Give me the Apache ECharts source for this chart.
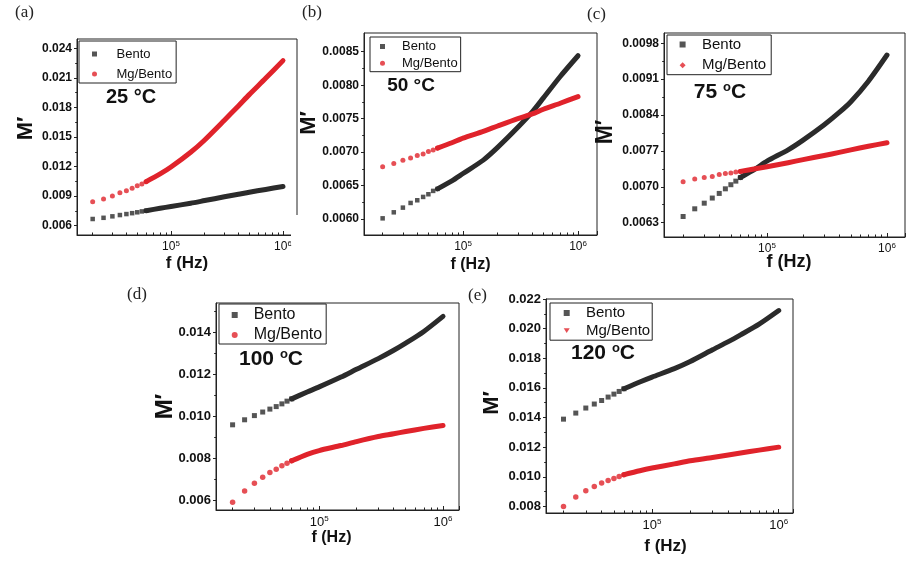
<!DOCTYPE html>
<html><head><meta charset="utf-8">
<script src="https://cdn.jsdelivr.net/npm/echarts@6/dist/echarts.min.js"></script>
<style>html,body{margin:0;padding:0;background:#fff}#c{width:912px;height:563px}</style>
</head><body><div id="c"></div>
<script>
// ---------- data ----------
const freqSparse = [20000, 25000, 30000, 35000, 40000, 45000, 50000, 55000, 60000];
const freqDense = [60000, 80000, 100000, 150000, 200000, 300000, 400000, 500000, 700000, 1000000];
const xMinorTicks = [20000, 30000, 40000, 50000, 60000, 70000, 80000, 90000,
  200000, 300000, 400000, 500000, 600000, 700000, 800000, 900000];
const seriesNames = ['Bento', 'Mg/Bento'];

// (a) 25 °C
const bentoSparseA = [0.00668, 0.00680, 0.00695, 0.00708, 0.00718, 0.00727, 0.00736, 0.00745, 0.00752];
const bentoDenseA = [0.00752, 0.00777, 0.00795, 0.00828, 0.00855, 0.00893, 0.00919, 0.00940, 0.00968, 0.00998];
const mgSparseA = [0.00844, 0.00871, 0.00902, 0.00935, 0.00955, 0.00980, 0.01006, 0.01023, 0.01047];
const mgDenseA = [0.01047, 0.01125, 0.01195, 0.01345, 0.01470, 0.01670, 0.01815, 0.01930, 0.02095, 0.02275];
const yTicksA = [0.006, 0.009, 0.012, 0.015, 0.018, 0.021, 0.024];
const yMinorA = [0.0075, 0.0105, 0.0135, 0.0165, 0.0195, 0.0225];

// (b) 50 °C
const bentoSparseB = [0.00601, 0.00610, 0.00617, 0.00624, 0.00628, 0.00633, 0.00637, 0.00642, 0.00645];
const bentoDenseB = [0.00645, 0.00657, 0.00668, 0.00688, 0.00707, 0.00737, 0.00760, 0.00781, 0.00813, 0.00844];
const mgSparseB = [0.00678, 0.00683, 0.00688, 0.00691, 0.00695, 0.00697, 0.00701, 0.00703, 0.00706];
const mgDenseB = [0.00706, 0.00714, 0.00721, 0.00731, 0.00739, 0.00750, 0.00757, 0.00764, 0.00773, 0.00783];
const yTicksB = [0.0060, 0.0065, 0.0070, 0.0075, 0.0080, 0.0085];
const yMinorB = [0.00625, 0.00675, 0.00725, 0.00775, 0.00825];

// (c) 75 °C
const bentoSparseC = [0.00642, 0.00657, 0.00668, 0.00678, 0.00687, 0.00696, 0.00704, 0.00711, 0.00718];
const bentoDenseC = [0.00718, 0.00735, 0.00750, 0.00772, 0.00791, 0.00821, 0.00845, 0.00866, 0.00906, 0.00957];
const mgSparseC = [0.00710, 0.00715, 0.00718, 0.00720, 0.00724, 0.00726, 0.00727, 0.00729, 0.00730];
const mgDenseC = [0.00730, 0.00735, 0.00739, 0.00747, 0.00753, 0.00761, 0.00767, 0.00772, 0.00779, 0.00786];
const yTicksC = [0.0063, 0.0070, 0.0077, 0.0084, 0.0091, 0.0098];
const yMinorC = [0.00665, 0.00735, 0.00805, 0.00875, 0.00945];

// (d) 100 °C
const bentoSparseD = [0.00959, 0.00983, 0.01003, 0.01020, 0.01034, 0.01046, 0.01059, 0.01072, 0.01083];
const bentoDenseD = [0.01083, 0.01116, 0.01140, 0.01187, 0.01224, 0.01275, 0.01315, 0.01349, 0.01405, 0.01477];
const mgSparseD = [0.00589, 0.00643, 0.00680, 0.00709, 0.00731, 0.00747, 0.00763, 0.00776, 0.00787];
const mgDenseD = [0.00787, 0.00818, 0.00836, 0.00860, 0.00879, 0.00903, 0.00916, 0.00927, 0.00942, 0.00956];
const yTicksD = [0.006, 0.008, 0.010, 0.012, 0.014];
const yMinorD = [0.007, 0.009, 0.011, 0.013, 0.015];

// (e) 120 °C
const bentoSparseE = [0.01389, 0.01430, 0.01464, 0.01491, 0.01515, 0.01538, 0.01558, 0.01576, 0.01594];
const bentoDenseE = [0.01594, 0.01640, 0.01673, 0.01730, 0.01778, 0.01857, 0.01912, 0.01958, 0.02030, 0.02122];
const mgSparseE = [0.00800, 0.00863, 0.00906, 0.00935, 0.00958, 0.00975, 0.00989, 0.01002, 0.01014];
const mgDenseE = [0.01014, 0.01041, 0.01059, 0.01087, 0.01108, 0.01130, 0.01147, 0.01160, 0.01180, 0.01200];
const yTicksE = [0.008, 0.010, 0.012, 0.014, 0.016, 0.018, 0.020, 0.022];
const yMinorE = [0.009, 0.011, 0.013, 0.015, 0.017, 0.019, 0.021];

const panelTags = ['(a)', '(b)', '(c)', '(d)', '(e)'];
const tempNumbers = ['25', '50', '75', '100', '120'];

// ---------- layout ----------
const FONT = '"Liberation Sans", Arial, Helvetica, sans-serif';
const SERIF = '"Liberation Serif", "Times New Roman", serif';
const BLACK = '#2b2b2b';
const RED = '#e0232b';
const INK = '#111';

const panels = [
  { bs: bentoSparseA, bd: bentoDenseA, ms: mgSparseA, md: mgDenseA, yt: yTicksA, ym: yMinorA, dec: 3,
    grid: { left: 77, top: 39, width: 220, height: 196 }, xMin: 14490, xMax: 1334000, yMin: 0.005056, yMax: 0.024944,
    tickFs: 12, xNameFs: 17, xNameGap: 20, xNamePad: [0, 0, 0, 0], yNameFs: 22, yNameGap: 40, yNamePad: [0, 0, 0, 17],
    legend: { left: 79, top: 41, padding: [6, 4, 2, 13], itemGap: 6, fs: 13, lh: 14, icon: 5, g: 14.5, mgIcon: 'circle' },
    tag: { x: 15, y: 13 }, temp: { x: 131, y: 97, fs: 20, sup: false }, symB: 4.5, symR: 5 },
  { bs: bentoSparseB, bd: bentoDenseB, ms: mgSparseB, md: mgDenseB, yt: yTicksB, ym: yMinorB, dec: 4,
    grid: { left: 364, top: 33, width: 233, height: 202 }, xMin: 13770, xMax: 1462000, yMin: 0.005761, yMax: 0.00878,
    tickFs: 12, xNameFs: 16, xNameGap: 22, xNamePad: [0, 20, 0, 0], yNameFs: 22, yNameGap: 44, yNamePad: [0, 0, 0, 22],
    legend: { left: 370, top: 37, padding: [3, 3, 2, 10], itemGap: 3.7, fs: 13, lh: 13, icon: 5, g: 12, mgIcon: 'circle' },
    tag: { x: 302, y: 13 }, temp: { x: 411, y: 86, fs: 19, sup: false }, symB: 4.5, symR: 5 },
  { bs: bentoSparseC, bd: bentoDenseC, ms: mgSparseC, md: mgDenseC, yt: yTicksC, ym: yMinorC, dec: 4,
    grid: { left: 664, top: 33, width: 241, height: 204 }, xMin: 13860, xMax: 1413000, yMin: 0.00602, yMax: 0.0100,
    tickFs: 12, xNameFs: 18, xNameGap: 16, xNamePad: [0, 0, 0, 9], yNameFs: 23, yNameGap: 47, yNamePad: [0, 0, 0, 6],
    legend: { left: 667, top: 35, padding: [2, 5, 2, 12.6], itemGap: 5.7, fs: 15, lh: 15, icon: 6, g: 11.4, mgIcon: 'diamond' },
    tag: { x: 587, y: 15 }, temp: { x: 720, y: 92, fs: 21, sup: true }, symB: 5, symR: 5 },
  { bs: bentoSparseD, bd: bentoDenseD, ms: mgSparseD, md: mgDenseD, yt: yTicksD, ym: yMinorD, dec: 3,
    grid: { left: 216, top: 303, width: 243, height: 207 }, xMin: 14690, xMax: 1346000, yMin: 0.005522, yMax: 0.015407,
    tickFs: 13, xNameFs: 16, xNameGap: 20, xNamePad: [0, 12, 0, 0], yNameFs: 24, yNameGap: 39, yNamePad: [0, 0, 0, 0],
    legend: { left: 219, top: 304, padding: [3, 4, 1, 12.7], itemGap: 4, fs: 16, lh: 16, icon: 6, g: 11, mgIcon: 'circle' },
    tag: { x: 127, y: 295 }, temp: { x: 271, y: 359, fs: 21, sup: true }, symB: 5, symR: 5.5 },
  { bs: bentoSparseE, bd: bentoDenseE, ms: mgSparseE, md: mgDenseE, yt: yTicksE, ym: yMinorE, dec: 3,
    grid: { left: 546, top: 299, width: 247, height: 214 }, xMin: 14550, xMax: 1296000, yMin: 0.007555, yMax: 0.022,
    tickFs: 13, xNameFs: 17, xNameGap: 25, xNamePad: [0, 8, 0, 0], yNameFs: 22, yNameGap: 43, yNamePad: [0, 0, 0, 6],
    legend: { left: 550, top: 303, padding: [2.5, 2, 2, 13.7], itemGap: 2.7, fs: 15, lh: 15, icon: 6, g: 11.3, mgIcon: 'path://M0,0 L10,0 L5,8 Z' },
    tag: { x: 468, y: 296 }, temp: { x: 603, y: 353, fs: 21, sup: true }, symB: 5, symR: 5.5 }
];

function zip(xs, ys) { return xs.map((x, i) => [x, ys[i]]); }

const grids = [], xAxes = [], yAxes = [], series = [], legends = [], graphics = [];

panels.forEach((p, i) => {
  grids.push(Object.assign({ show: true, borderColor: '#222', borderWidth: 1, backgroundColor: 'transparent' }, p.grid));
  const xi = xAxes.length, yi = yAxes.length;
  xAxes.push({
    type: 'log', logBase: 10, gridIndex: i, min: p.xMin, max: p.xMax, position: 'bottom',
    axisLine: { show: true, lineStyle: { color: '#222', width: 1 } },
    axisTick: { show: true, inside: true, length: 4, lineStyle: { color: '#222' } },
    splitLine: { show: false },
    axisLabel: {
      margin: 5,
      formatter: v => {
        const l = Math.log10(v), e = Math.round(l);
        if (Math.abs(l - e) > 1e-6) return '';
        return '{b|10}{s|' + e + '}';
      },
      rich: {
        b: { fontSize: p.tickFs, fontFamily: FONT, color: INK, lineHeight: p.tickFs + 2 },
        s: { fontSize: 8, fontFamily: FONT, color: INK, verticalAlign: 'top', lineHeight: 8 }
      }
    },
    name: 'f (Hz)', nameLocation: 'middle', nameGap: p.xNameGap, nameMoveOverlap: false,
    nameTextStyle: { fontSize: p.xNameFs, fontWeight: 'bold', fontFamily: FONT, color: INK, padding: p.xNamePad }
  });
  xAxes.push({
    type: 'log', logBase: 10, gridIndex: i, min: p.xMin, max: p.xMax, position: 'bottom',
    axisLine: { show: false }, splitLine: { show: false }, axisLabel: { show: false },
    axisTick: { show: true, inside: true, length: 2.5, customValues: xMinorTicks, lineStyle: { color: '#222' } }
  });
  yAxes.push({
    type: 'value', gridIndex: i, min: p.yMin, max: p.yMax, position: 'left',
    axisLine: { show: true, lineStyle: { color: '#222', width: 1 } },
    axisTick: { show: true, inside: false, length: 3, customValues: p.yt, lineStyle: { color: '#222' } },
    splitLine: { show: false },
    axisLabel: { customValues: p.yt, margin: 5, fontSize: p.tickFs, fontFamily: FONT, color: INK, fontWeight: 'bold',
      formatter: v => Number(v).toFixed(p.dec) },
    name: 'M\u2032', nameLocation: 'middle', nameRotate: 90, nameGap: p.yNameGap, nameMoveOverlap: false,
    nameTextStyle: { fontSize: p.yNameFs, fontWeight: 'bold', fontFamily: FONT, color: INK, padding: p.yNamePad }
  });
  yAxes.push({
    type: 'value', gridIndex: i, min: p.yMin, max: p.yMax, position: 'left',
    axisLine: { show: false }, splitLine: { show: false }, axisLabel: { show: false },
    axisTick: { show: true, inside: false, length: 1.8, customValues: p.ym, lineStyle: { color: '#222' } }
  });

  const common = { xAxisIndex: xi, yAxisIndex: yi, animation: false };
  series.push(Object.assign({ type: 'scatter', name: seriesNames[0], data: zip(freqSparse, p.bs),
    symbol: 'rect', symbolSize: p.symB, itemStyle: { color: BLACK } }, common));
  series.push(Object.assign({ type: 'line', name: seriesNames[0], data: zip(freqDense, p.bd),
    showSymbol: false, smooth: 0.25, itemStyle: { color: BLACK },
    lineStyle: { color: BLACK, width: 5, cap: 'round', join: 'round' } }, common));
  series.push(Object.assign({ type: 'scatter', name: seriesNames[1], data: zip(freqSparse, p.ms),
    symbol: 'circle', symbolSize: p.symR, itemStyle: { color: RED } }, common));
  series.push(Object.assign({ type: 'line', name: seriesNames[1], data: zip(freqDense, p.md),
    showSymbol: false, smooth: 0.25, itemStyle: { color: RED },
    lineStyle: { color: RED, width: 5, cap: 'round', join: 'round' } }, common));

  const L = p.legend;
  legends.push({
    orient: 'vertical', left: L.left, top: L.top, padding: L.padding, itemGap: L.itemGap,
    itemWidth: L.icon, itemHeight: L.icon, borderColor: '#222', borderWidth: 1, selectedMode: false,
    data: [
      { name: seriesNames[0], icon: 'rect', itemStyle: { color: BLACK } },
      { name: seriesNames[1], icon: L.mgIcon, itemStyle: { color: RED } }
    ],
    formatter: n => '{g| }' + n,
    textStyle: { fontSize: L.fs, lineHeight: L.lh, fontFamily: FONT, color: INK,
      rich: { g: { width: L.g, lineHeight: L.lh, fontSize: L.fs } } }
  });

  graphics.push({ type: 'text', z: 100, style: { x: p.tag.x, y: p.tag.y, text: panelTags[i], font: '17px ' + SERIF,
    fill: '#222', align: 'left', verticalAlign: 'middle' } });
  const T = p.temp;
  graphics.push({ type: 'text', z: 100, style: {
    x: T.x, y: T.y, align: 'center', verticalAlign: 'middle',
    text: T.sup ? '{n|' + tempNumbers[i] + ' }{s|o}{n|C}' : '{n|' + tempNumbers[i] + ' \u00B0C}',
    rich: {
      n: { fontSize: T.fs, fontWeight: 'bold', fontFamily: FONT, fill: INK, lineHeight: T.fs + 2 },
      s: { fontSize: Math.round(T.fs * 0.62), fontWeight: 'bold', fontFamily: FONT, fill: INK, verticalAlign: 'top', lineHeight: T.fs + 2 }
    }
  } });
});

// white patch where panel (b)'s image overlaps the right frame of panel (a)
graphics.push({ type: 'rect', z: 200, shape: { x: 291, y: 215, width: 10, height: 30 }, style: { fill: '#fff' } });

const chart = echarts.init(document.getElementById('c'), null, { renderer: 'canvas' });
chart.setOption({
  backgroundColor: '#fff',
  animation: false,
  grid: grids, xAxis: xAxes, yAxis: yAxes, series: series, legend: legends, graphic: graphics
});
</script></body></html>
